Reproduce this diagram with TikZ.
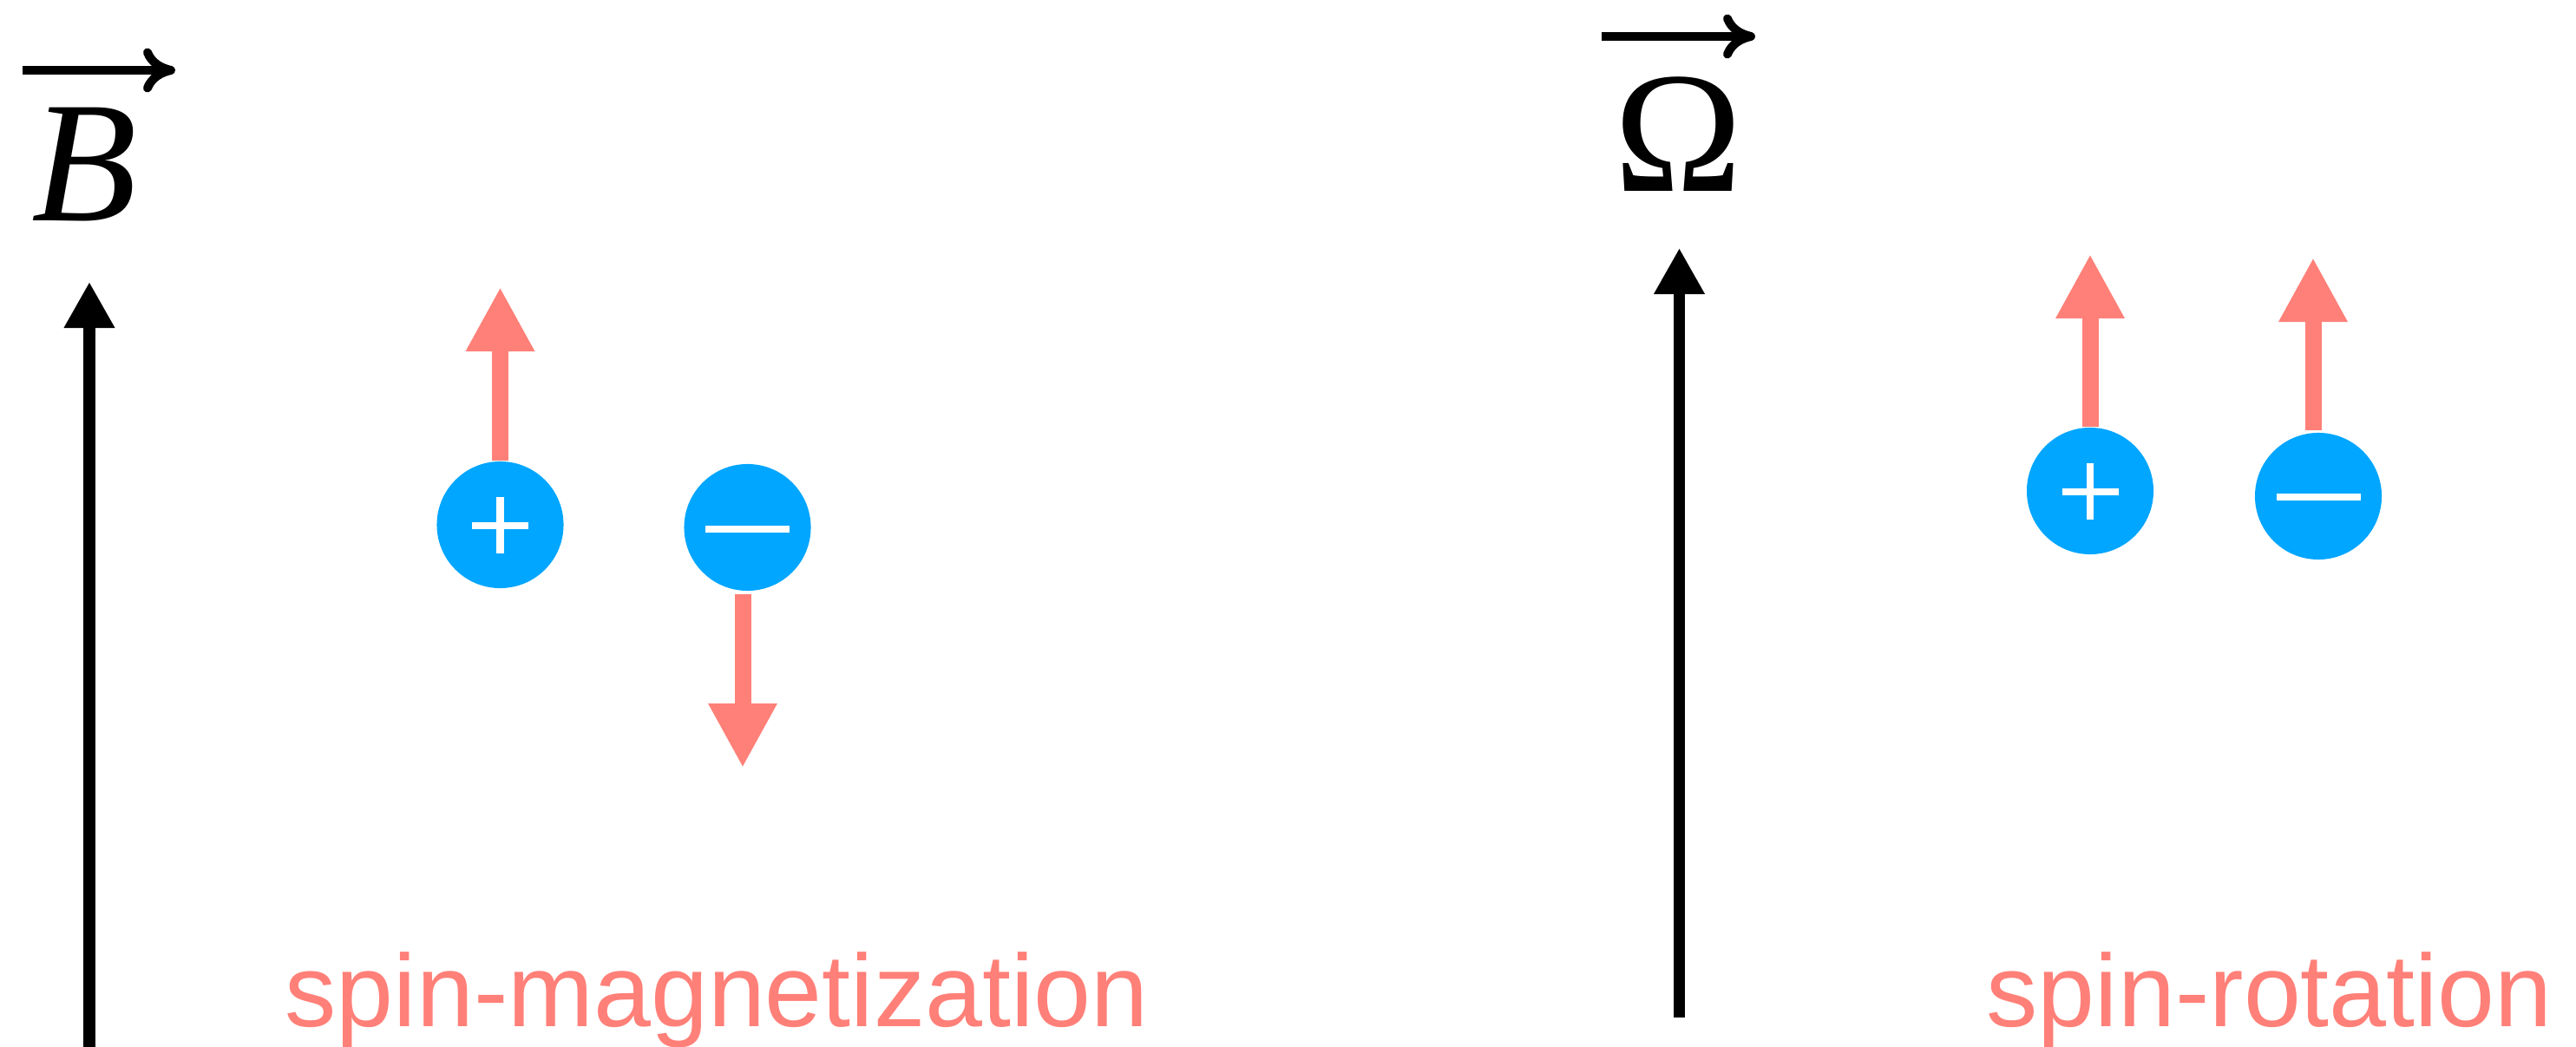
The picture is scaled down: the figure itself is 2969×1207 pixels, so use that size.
\documentclass[tikz,border=0pt]{standalone}
\usepackage{fontspec}
\setmainfont{Liberation Serif}
\newfontfamily\labfont{Liberation Sans}
\usetikzlibrary{arrows.meta,calc}
\definecolor{salmon}{HTML}{FF8078}
\definecolor{ionblue}{HTML}{00A6FF}
\begin{document}
\begin{tikzpicture}[x=0.01cm,y=-0.01cm,
 axisarrow/.style={line width=0.13cm, -{Triangle[length=0.53cm,width=0.55cm]}},
 spinarrow/.style={salmon, line width=0.19cm, -{Triangle[length=0.74cm,width=0.74cm]}},
 vecarrow/.style={line width=0.1cm, -{Computer Modern Rightarrow[length=0.37cm,width=0.51cm]}},
 ion/.style={circle, fill=ionblue, minimum size=1.46cm, inner sep=0pt},
 sign/.style={white, line width=0.085cm},
 caption/.style={salmon, font=\labfont\fontsize{33.7pt}{40pt}\selectfont, anchor=base west, inner sep=0pt},
 sym/.style={font=\fontsize{56.6pt}{60pt}\selectfont, anchor=base, inner sep=0pt}]
\useasboundingbox (0,0) rectangle (2969,1207);

% labels
\node[sym] (Blbl) at (97,255) {\itshape B};
\node[sym] (Olbl) at (1934.5,221) {Ω};
\coordinate (bvA) at (26,81);
\coordinate (bvB) at (202,81);
\coordinate (ovA) at (1846,42);
\coordinate (ovB) at (2023,42);
\draw[vecarrow] (bvA) -- (bvB);
\draw[vecarrow] (ovA) -- (ovB);

% axis arrows
\coordinate (Bbot) at (103,1210);
\coordinate (Btip) at (103,325);
\coordinate (Obot) at (1935.5,1173);
\coordinate (Otip) at (1935.5,286);
\draw[axisarrow] (Bbot) -- (Btip);
\draw[axisarrow] (Obot) -- (Otip);

% ions
\node[ion] (pL) at (576.5,605) {};
\node[ion] (mL) at (861.5,608) {};
\node[ion] (pR) at (2409,566) {};
\node[ion] (mR) at (2672,572) {};

\draw[sign] ($(pL)+(-32.5,1)$) -- ($(pL)+(32.5,1)$);
\draw[sign] ($(pL)+(0,-31.5)$) -- ($(pL)+(0,33.5)$);
\draw[sign] ($(mL)+(-48.5,2)$) -- ($(mL)+(48.5,2)$);
\draw[sign] ($(pR)+(-32.5,1)$) -- ($(pR)+(32.5,1)$);
\draw[sign] ($(pR)+(0,-31.5)$) -- ($(pR)+(0,33.5)$);
\draw[sign] ($(mR)+(-48.5,1)$) -- ($(mR)+(48.5,1)$);

% spin arrows
\coordinate (pLtip) at (576.5,331);
\coordinate (mLtip) at (856,885);
\coordinate (pRtip) at (2409,293);
\coordinate (mRtip) at (2666,297);
\draw[spinarrow] (pL.north) -- (pLtip);
\draw[spinarrow] ($(mL.south)+(-5.5,3)$) -- (mLtip);
\draw[spinarrow] (pR.north) -- (pRtip);
\draw[spinarrow] ($(mR.north)+(-6,-2)$) -- (mRtip);

% captions
\node[caption] (capM) at (328,1184) {spin-magnetization};
\node[caption] (capR) at (2289,1184) {spin-rotation};
\end{tikzpicture}
\end{document}
